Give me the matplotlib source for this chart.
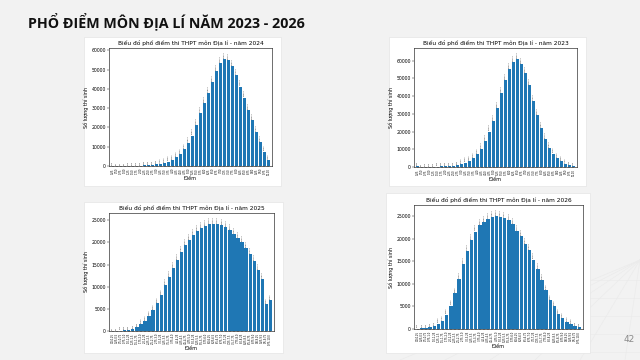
import matplotlib
matplotlib.use("Agg")
import matplotlib.pyplot as plt
from matplotlib.patches import Rectangle

# ---------------- data ----------------
scores_a = ["0.25", "0.50", "0.75", "1.00", "1.25", "1.50", "1.75", "2.00", "2.25", "2.50",
            "2.75", "3.00", "3.25", "3.50", "3.75", "4.00", "4.25", "4.50", "4.75", "5.00",
            "5.25", "5.50", "5.75", "6.00", "6.25", "6.50", "6.75", "7.00", "7.25", "7.50",
            "7.75", "8.00", "8.25", "8.50", "8.75", "9.00", "9.25", "9.50", "9.75", "10.00"]
scores_b = ["0.0-0.25", "0.25-0.5", "0.5-0.75", "0.75-1.0", "1.0-1.25", "1.25-1.5", "1.5-1.75",
            "1.75-2.0", "2.0-2.25", "2.25-2.5", "2.5-2.75", "2.75-3.0", "3.0-3.25", "3.25-3.5",
            "3.5-3.75", "3.75-4.0", "4.0-4.25", "4.25-4.5", "4.5-4.75", "4.75-5.0", "5.0-5.25",
            "5.25-5.5", "5.5-5.75", "5.75-6.0", "6.0-6.25", "6.25-6.5", "6.5-6.75", "6.75-7.0",
            "7.0-7.25", "7.25-7.5", "7.5-7.75", "7.75-8.0", "8.0-8.25", "8.25-8.5", "8.5-8.75",
            "8.75-9.0", "9.0-9.25", "9.25-9.5", "9.5-9.75", "9.75-10.0"]

counts_2024 = [100, 50, 60, 80, 100, 120, 150, 200, 300, 400,
               550, 800, 1100, 1600, 2300, 3200, 4500, 6300, 8700, 11800,
               15800, 21300, 27400, 32600, 37800, 43500, 49400, 53400, 55600, 55100,
               51600, 47000, 41200, 35500, 29000, 23600, 17500, 12600, 7500, 3100]
counts_2023 = [300, 80, 100, 150, 200, 250, 300, 350, 400, 600,
               900, 1500, 2500, 3400, 5100, 7200, 10000, 14600, 20000, 26000,
               33500, 41600, 49000, 55300, 59200, 61000, 58300, 53000, 46000, 37300,
               29300, 21800, 15700, 10800, 7600, 5100, 3200, 1700, 900, 500]
counts_2025 = [50, 80, 100, 200, 300, 500, 900, 1500, 2300, 3400,
               4800, 6400, 8200, 10300, 12100, 14300, 16100, 17800, 19300, 20500,
               21600, 22500, 23200, 23700, 24100, 24200, 24200, 23900, 23400, 22700,
               21900, 21000, 20000, 18800, 17400, 15700, 13700, 11800, 6100, 7000]
counts_2026 = [100, 150, 300, 500, 700, 1200, 1700, 3200, 5200, 8000,
               11000, 14400, 17200, 19700, 21600, 23000, 23800, 24400, 24800, 25000,
               24900, 24600, 24100, 23200, 21700, 20600, 18900, 17500, 15400, 13200,
               10800, 8700, 6500, 5000, 3400, 2400, 1500, 1000, 600, 400]

years = ["2024", "2023", "2025", "2026"]
title_main = "PHỔ ĐIỂM MÔN ĐỊA LÍ NĂM 2023 - 2026"
chart_title = "Biểu đồ phổ điểm thi THPT môn Địa lí - năm {}"

W, H = 640, 360

fig = plt.figure(figsize=(6.4, 3.6), dpi=100)
fig.patch.set_facecolor("#f2f2f2")

def frac(l, t, r, b):
    return [l / W, 1 - b / H, (r - l) / W, (b - t) / H]

# decorative faint perspective grid (bottom-right)
deco = fig.add_axes([0, 0, 1, 1], zorder=0)
deco.set_xlim(0, W); deco.set_ylim(H, 0); deco.axis("off")
for k in range(7):
    deco.plot([640, 400 + k * 45], [260, 360], color="#ebebeb", lw=0.5)
for k in range(5):
    y = 280 + k * 18
    deco.plot([440 - k * 10, 640], [y, y], color="#ebebeb", lw=0.5)

fig.text(28 / W, 1 - 21 / H, title_main, fontsize=10.3, fontweight="bold",
         family=["Open Sans", "DejaVu Sans"], color="#111111", va="center", ha="left")
fig.text(624 / W, 1 - 339 / H, "42", fontsize=6.5, color="#8a8a8a", va="center", ha="left")

panels = [
    (counts_2024, scores_a, years[0], (84, 37, 281, 186), (109, 48, 272, 166)),
    (counts_2023, scores_a, years[1], (389, 37, 586, 186), (414, 48, 577, 167)),
    (counts_2025, scores_b, years[2], (84, 202, 283, 353), (109, 213, 274, 331)),
    (counts_2026, scores_b, years[3], (386, 193, 590, 353), (414, 205, 583, 329)),
]

for counts, labels, yr, wbox, abox in panels:
    l, t, r, b = wbox
    fig.patches.append(Rectangle((l / W, 1 - b / H), (r - l) / W, (b - t) / H,
                                 transform=fig.transFigure, facecolor="white",
                                 edgecolor="#e4e4e4", lw=0.5, zorder=1))
    ax = fig.add_axes(frac(*abox), zorder=2)
    x = list(range(len(counts)))
    ax.bar(x, counts, width=0.8, color="#1f77b4")
    for xi, v in zip(x, counts):
        ax.text(xi, v + max(counts) * 0.01, str(v), rotation=90, fontsize=1.6,
                ha="center", va="bottom", color="#444444")
    ax.set_xticks(x)
    ax.set_xticklabels(labels, rotation=90, fontsize=1.8)
    ax.tick_params(axis="x", length=1, width=0.3, pad=0.5)
    ax.tick_params(axis="y", labelsize=3.3, length=1.5, width=0.3, pad=0.8)
    ax.set_xlim(-0.9, len(counts) - 0.1)
    ax.set_ylim(0, max(counts) * 1.1)
    ax.set_title(chart_title.format(yr), fontsize=4.2, pad=2)
    ax.set_xlabel("Điểm", fontsize=3.5, labelpad=1)
    ax.set_ylabel("Số lượng thí sinh", fontsize=3.5, labelpad=2)
    for s in ax.spines.values():
        s.set_linewidth(0.4)

fig.savefig("out.png", dpi=100, facecolor=fig.get_facecolor())
